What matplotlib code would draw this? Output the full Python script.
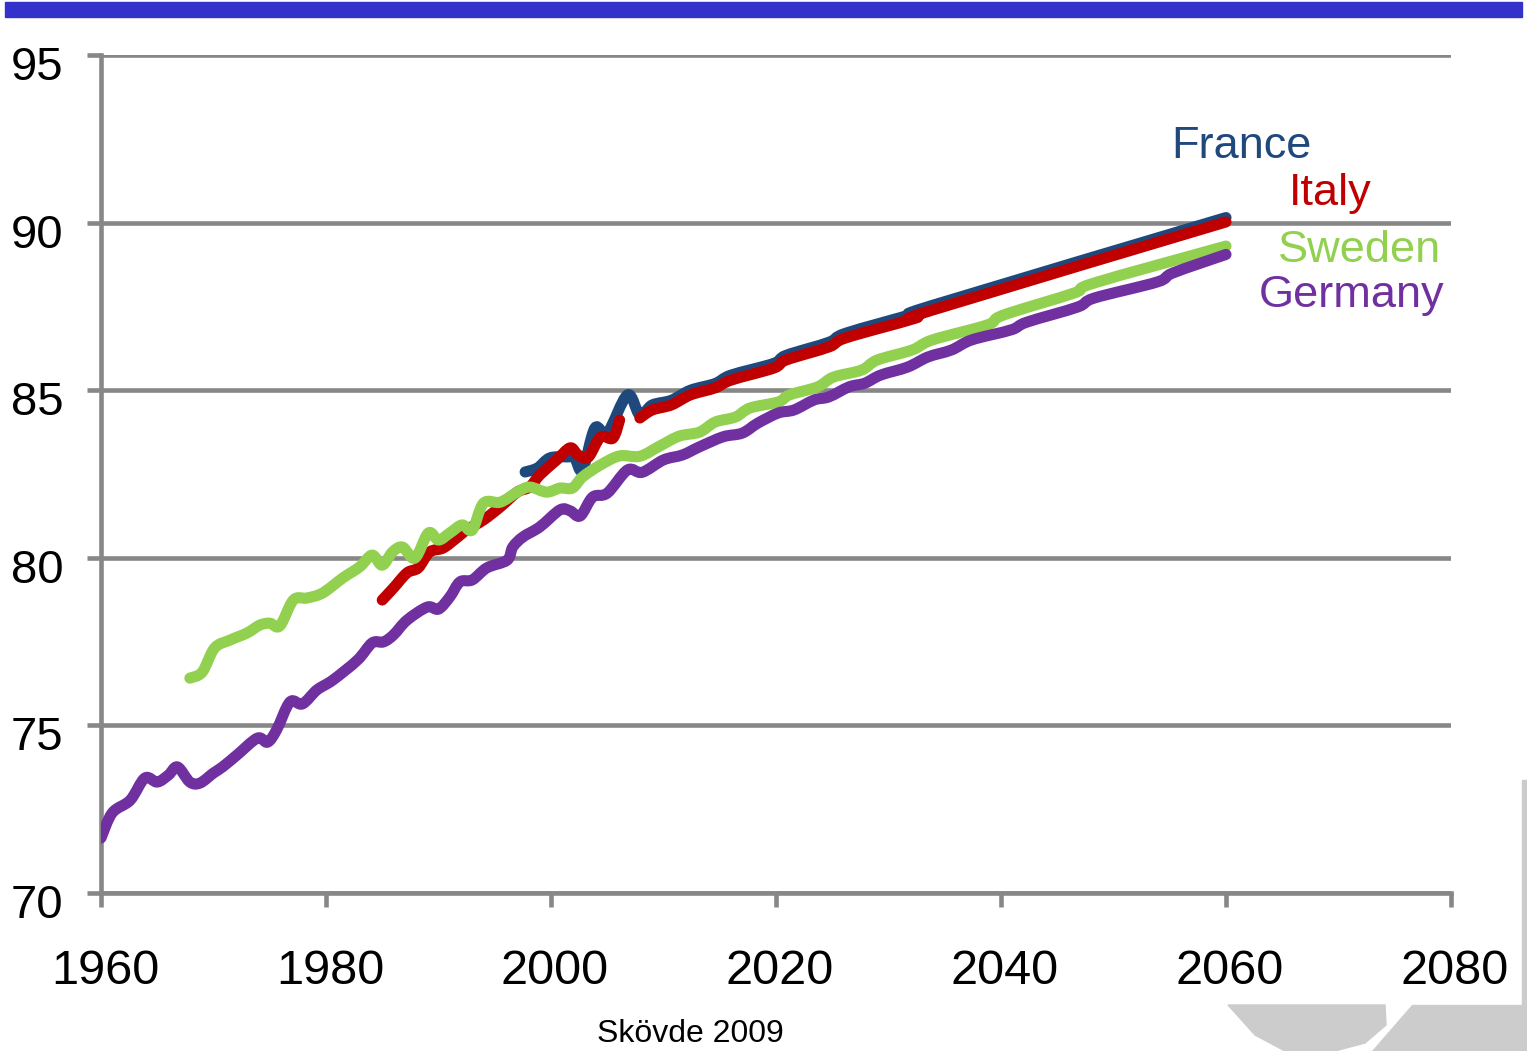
import numpy as np
import matplotlib.pyplot as plt
from matplotlib.patches import Rectangle, Polygon, PathPatch
from matplotlib.path import Path
import matplotlib.transforms as mtransforms

plt.rcParams['font.family'] = ['Liberation Sans', 'DejaVu Sans']

# valores (esperanza de vida, anyo)
anyos_alemania = [1960, 1961, 1962.6, 1963.9, 1965, 1966, 1966.8, 1967.9, 1968.8, 1970, 1970.8,
                  1972.1, 1973.9, 1974.8, 1975.6, 1976.8, 1977.9, 1979.2, 1980.6, 1982.8, 1984.1,
                  1985.1, 1986, 1987.2, 1989, 1990, 1991, 1991.9, 1993, 1994.3, 1996.1, 1996.6,
                  1997.5, 1999, 2000.8, 2001.7, 2002.6, 2003.7, 2005, 2006.8, 2008.1, 2010,
                  2011.7, 2013.2, 2015.3, 2017, 2018.4, 2020.2, 2021.6, 2023.4, 2024.7, 2026.5,
                  2027.9, 2029.3, 2031.7, 2033.5, 2035.6, 2037.4, 2040.9, 2042.3, 2046.8, 2048.3,
                  2053.9, 2055.3, 2060]
alemania = [71.64, 72.39, 72.77, 73.43, 73.31, 73.52, 73.76, 73.31, 73.28, 73.58, 73.76,
            74.12, 74.62, 74.5, 74.86, 75.7, 75.64, 76.06, 76.35, 76.95, 77.46,
            77.49, 77.7, 78.14, 78.53, 78.47, 78.83, 79.28, 79.34, 79.7, 79.93, 80.32,
            80.62, 80.92, 81.43, 81.4, 81.25, 81.81, 81.93, 82.62, 82.55, 82.92,
            83.07, 83.31, 83.61, 83.72, 84.02, 84.32, 84.41, 84.71, 84.8, 85.1,
            85.21, 85.45, 85.69, 85.99, 86.2, 86.5, 86.8, 87.03, 87.48, 87.75,
            88.23, 88.5, 89.05]

anyos_suecia = [1967.9, 1969, 1970.1, 1971.5, 1973, 1974.1, 1975, 1975.9, 1977.1, 1978.3, 1979.7,
                1981.5, 1983, 1984.1, 1985, 1985.9, 1986.8, 1987.9, 1989.1, 1990, 1991,
                1992.1, 1993, 1994, 1995.5, 1997, 1998.1, 1999.6, 2000.8, 2001.9, 2002.8,
                2004.4, 2006.1, 2007.9, 2009.7, 2011.4, 2013.2, 2014.6, 2016.4, 2017.7, 2020.2,
                2021.2, 2023.7, 2025.1, 2027.6, 2029, 2032.1, 2033.9, 2038.8, 2040.2, 2046.5,
                2048.3, 2060]
suecia = [76.41, 76.59, 77.31, 77.55, 77.76, 77.99, 78.05, 77.97, 78.74, 78.8, 78.95,
          79.4, 79.73, 80.08, 79.78, 80.17, 80.32, 79.99, 80.74, 80.53, 80.74,
          80.98, 80.83, 81.63, 81.66, 81.96, 82.11, 81.96, 82.08, 82.08, 82.41,
          82.77, 83.04, 83.03, 83.34, 83.63, 83.75, 84.05, 84.2, 84.47, 84.65,
          84.86, 85.1, 85.39, 85.6, 85.9, 86.2, 86.5, 86.95, 87.24, 87.9,
          88.2, 89.3]

anyos_italia = [1985, 1986, 1987.2, 1988.2, 1989.2, 1990.4, 1991.6, 1992.5, 1994, 1995.5, 1997,
                1998.1, 1999, 2000.5, 2001.7, 2002.4, 2003.3, 2004.4, 2005.5, 2006.1, 2007,
                2007.9, 2009, 2010.7, 2012.4, 2014.6, 2016, 2019.8, 2020.9, 2024.7, 2026.2,
                2032.4, 2033.9, 2060]
italia = [78.74, 79.1, 79.55, 79.7, 80.17, 80.29, 80.59, 80.83, 81.13, 81.52, 81.96,
          82.11, 82.47, 82.92, 83.28, 83.07, 83.0, 83.6, 83.57, 84.11, np.nan,
          84.17, 84.41, 84.56, 84.86, 85.07, 85.3, 85.66, 85.9, 86.29, 86.56,
          87.15, 87.39, 90.02]

anyos_francia = [1997.7, 1998.8, 1999.9, 2001.4, 2002.1, 2002.8, 2003.9, 2005, 2006.8, 2007.9,
                 2009, 2010.7, 2012.4, 2014.6, 2016, 2019.8, 2020.9, 2024.7, 2026.2, 2032.4,
                 2033.9, 2060]
francia = [82.56, 82.68, 82.98, 83.01, 82.98, 82.62, 83.87, 83.72, 84.86, 84.26,
           84.56, 84.7, 85.0, 85.2, 85.45, 85.8, 86.04, 86.43, 86.7, 87.3,
           87.53, 90.15]

paises = ["France", "Italy", "Sweden", "Germany"]
colores = ["#1F497D", "#C00000", "#92D050", "#7030A0"]


def curva_suave(x, y):
    # linea suavizada tipo Excel (Catmull-Rom pasado a Bezier), por tramos sin NaN
    x = np.asarray(x, float)
    y = np.asarray(y, float)
    verts, codes = [], []
    ok = ~np.isnan(y)
    cortes = np.split(np.arange(len(y)), np.where(~ok)[0])
    for idx in cortes:
        idx = idx[ok[idx]]
        if len(idx) < 2:
            continue
        p = np.column_stack([x[idx], y[idx]])
        verts.append(p[0])
        codes.append(Path.MOVETO)
        n = len(p)
        for i in range(n - 1):
            p0 = p[i - 1] if i > 0 else p[i]
            p3 = p[i + 2] if i + 2 < n else p[i + 1]
            c1 = p[i] + (p[i + 1] - p0) / 6
            c2 = p[i + 1] - (p3 - p[i]) / 6
            verts += [c1, c2, p[i + 1]]
            codes += [Path.CURVE4] * 3
    return Path(verts, codes)


fig = plt.figure(figsize=(15.27, 10.51), dpi=100)
ax = fig.add_axes([101/1527, 1 - 893/1051, 1350/1527, 838/1051])

# barra azul de arriba
fig.patches.append(Rectangle((5/1527, 1 - 17/1051), 1517/1527, 15/1051,
                             transform=fig.transFigure, color="#3333CC", zorder=0))

# logo gris de abajo a la derecha (aproximado)
gris = "#CCCCCC"
formas = [[(1228, 1005), (1385, 1005), (1386, 1025), (1365, 1043), (1335, 1051), (1285, 1051),
           (1255, 1035)],
          [(1412, 1005), (1527, 1005), (1527, 1051), (1372, 1051)],
          [(1522, 780), (1527, 780), (1527, 1005), (1522, 1005)]]
for pts in formas:
    fig.patches.append(Polygon([(px/1527, 1 - py/1051) for px, py in pts], closed=True,
                               transform=fig.transFigure, color=gris, zorder=0))

series = [(anyos_francia, francia), (anyos_italia, italia),
          (anyos_suecia, suecia), (anyos_alemania, alemania)]
for (x, y), c in zip(series, colores):
    ax.add_patch(PathPatch(curva_suave(x, y), fill=False, edgecolor=c, lw=8,
                           capstyle="round", joinstyle="round", zorder=3))

ax.set_xlim(1960, 2080)
ax.set_ylim(70, 95)
ax.set_xticks(np.arange(1960, 2081, 20))
ax.set_yticks(np.arange(70, 96, 5))
ax.grid(axis="y", color="#878787", lw=3.3)
for s in ["top", "right"]:
    ax.spines[s].set_visible(False)
for s in ["left", "bottom"]:
    ax.spines[s].set_color("#878787")
    ax.spines[s].set_linewidth(3.3)
ax.tick_params(axis="x", length=10, width=3.3, color="#878787", labelsize=35, pad=30)
ax.tick_params(axis="y", length=10, width=3.3, color="#878787", labelsize=34, pad=17)
off_y = mtransforms.ScaledTranslation(0, -8/100, fig.dpi_scale_trans)
for lab in ax.get_yticklabels():
    lab.set_transform(lab.get_transform() + off_y)
off_x = mtransforms.ScaledTranslation(4/100, 0, fig.dpi_scale_trans)
for lab in ax.get_xticklabels():
    lab.set_transform(lab.get_transform() + off_x)

# etiquetas de los paises
pos_etiquetas = [(1241, 147), (1330, 193), (1360, 251), (1352, 295)]
for nombre, c, (px, py) in zip(paises, colores, pos_etiquetas):
    fig.text(px/1527, 1 - py/1051, nombre, color=c, fontsize=32.5, ha="center", va="center")

fig.text(690/1527, 1 - 1034/1051, "Skövde 2009", fontsize=23, ha="center", va="center")

fig.savefig("out.png", dpi=100)
